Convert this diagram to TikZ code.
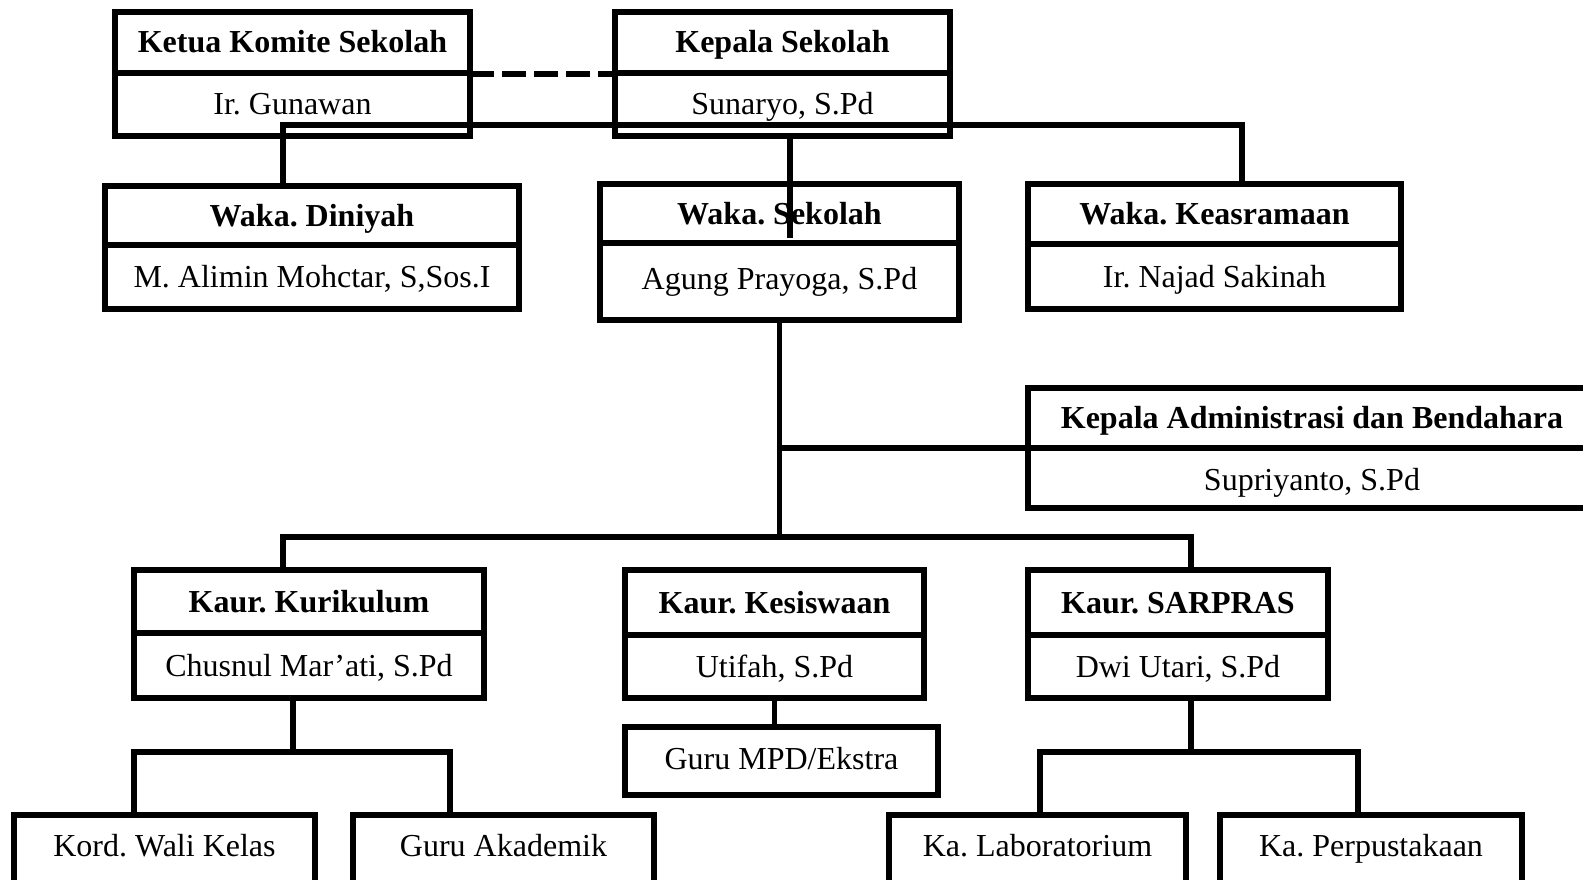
\documentclass[tikz,border=0pt]{standalone}
\usepackage{fontspec}
\setmainfont{Liberation Serif}
\usetikzlibrary{calc}
\tikzset{
  boxshape/.style={draw, line width=6pt, rectangle, inner sep=0pt, outer sep=0pt},
  boxline/.style={line width=6pt},
  conn/.style={line width=5.5pt},
  dashconn/.style={line width=6pt, dash pattern=on 24pt off 8pt},
  titletext/.style={font=\fontsize{32}{38}\selectfont\bfseries, inner sep=0pt},
  nametext/.style={font=\fontsize{32}{38}\selectfont, inner sep=0pt},
}
\newcommand\twobox[9][0]{%
  \node[boxshape, minimum width={#5-#3}, minimum height={#6-#4}] (#2) at ({(#3+#5)/2},{(#4+#6)/2}) {};
  \draw[boxline] (#3,#7) -- (#5,#7);
  \node[titletext, anchor=base] (#2-t) at ({(#3+#5)/2},{(#4+#7)/2+10.5}) {#8};
  \node[nametext, anchor=base] (#2-n) at ({(#3+#5)/2},{(#7+#6)/2+10.5+#1}) {#9};
}
\newcommand\onebox[7]{%
  \node[boxshape, minimum width={#4-#2}, minimum height={#5-#3}] (#1) at ({(#2+#4)/2},{(#3+#5)/2}) {};
  \node[nametext, anchor=base] (#1-n) at ({(#2+#4)/2},{#6+10.5}) {#7};
}
\begin{document}
\frenchspacing
\begin{tikzpicture}[x=1pt,y=-1pt]
\useasboundingbox (0,0) rectangle (1583,880);
\clip (0,0) rectangle (1583,880);
\fill[white] (0,0) rectangle (1583,880);

\twobox{ketua}{115}{12}{470}{136}{73}{Ketua Komite Sekolah}{Ir. Gunawan}
\twobox{kepala}{615}{12}{950}{136}{73}{Kepala Sekolah}{Sunaryo, S.Pd}
\twobox{diniyah}{105}{186}{519}{309}{245}{Waka. Diniyah}{M. Alimin Mohctar, S,Sos.I}
\twobox[-3]{wsek}{600}{184}{959}{320}{243}{Waka. Sekolah}{Agung Prayoga, S.Pd}
\twobox{keas}{1028}{184}{1401}{309}{244}{Waka. Keasramaan}{Ir. Najad Sakinah}
\twobox[2]{admin}{1028}{388}{1596}{508}{448}{Kepala Administrasi dan Bendahara}{Supriyanto, S.Pd}
\twobox{kurik}{134}{570}{484}{698}{633}{Kaur. Kurikulum}{Chusnul Mar’ati, S.Pd}
\twobox{kesis}{625}{570}{924}{698}{635}{Kaur. Kesiswaan}{Utifah, S.Pd}
\twobox{sarpras}{1028}{570}{1328}{698}{635}{Kaur. SARPRAS}{Dwi Utari, S.Pd}
\onebox{mpd}{625}{727}{938}{795}{759}{Guru MPD/Ekstra}
\onebox{kord}{14}{815}{315}{900}{846}{Kord. Wali Kelas}
\onebox{guruak}{353}{815}{654}{900}{846}{Guru Akademik}
\onebox{lab}{889}{815}{1186}{900}{846}{Ka. Laboratorium}
\onebox{perpus}{1220}{815}{1522}{900}{846}{Ka. Perpustakaan}

% connectors
\draw[dashconn] (ketua.east) -- (kepala.west);
\coordinate (tl) at (283,125);
\coordinate (tr) at (1242,125);
\draw[conn] (diniyah.north -| tl) -- (tl) -- (tr) -- (tr |- keas.north);
\coordinate (ks) at (790,238);
\draw[conn] (kepala.south -| ks) -- (ks);

\coordinate (kl) at (283,537);
\coordinate (kr) at (1191,537);
\draw[conn] (wsek.south) -- (wsek.south |- kl);
\coordinate (adm) at (wsek.south |- admin.west);
\draw[conn] (adm) -- (admin.west);
\draw[conn] (kurik.north -| kl) -- (kl) -- (kr) -- (sarpras.north -| kr);

\draw[conn] (kesis.south) -- (kesis.south |- mpd.north);

\coordinate (ku) at (293,752);
\coordinate (kuL) at (134,752);
\coordinate (kuR) at (450,752);
\draw[conn] (kurik.south -| ku) -- (ku);
\draw[conn] (kord.north -| kuL) -- (kuL) -- (kuR) -- (guruak.north -| kuR);

\coordinate (su) at (1191,752);
\coordinate (suL) at (1040,752);
\coordinate (suR) at (1358,752);
\draw[conn] (sarpras.south -| su) -- (su);
\draw[conn] (lab.north -| suL) -- (suL) -- (suR) -- (perpus.north -| suR);
\end{tikzpicture}
\end{document}
